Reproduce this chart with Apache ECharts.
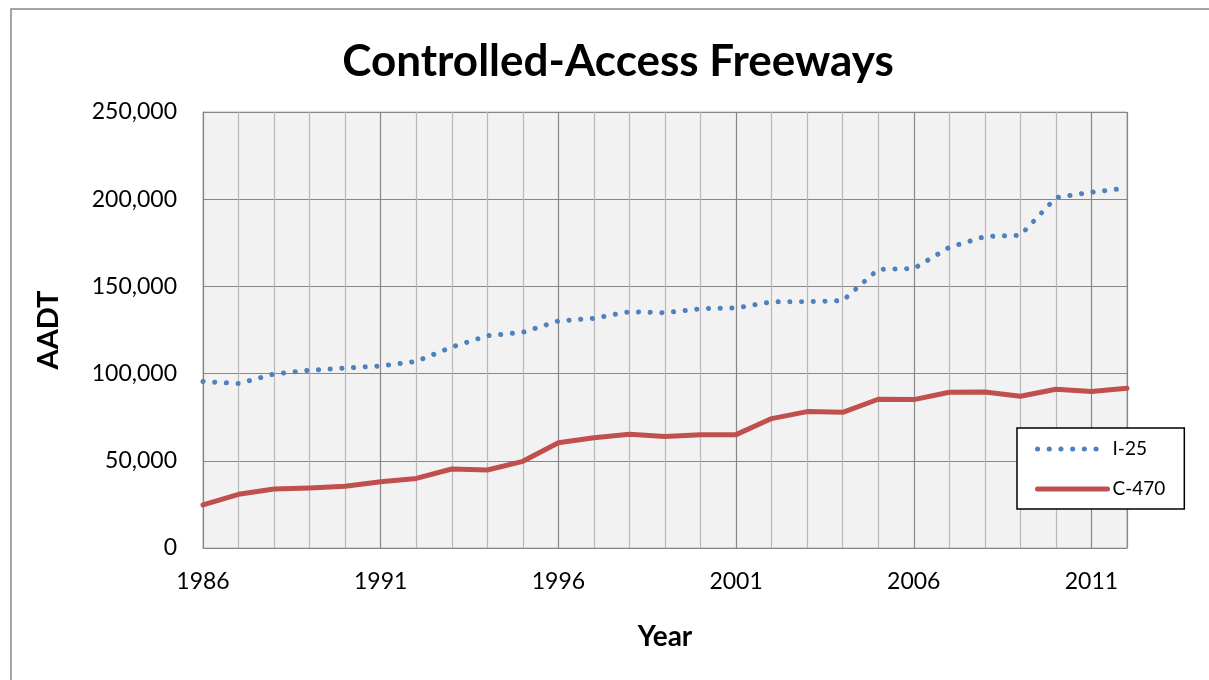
<!DOCTYPE html>
<html>
<head>
<meta charset="utf-8">
<title>Controlled-Access Freeways</title>
<script src="https://cdn.jsdelivr.net/npm/echarts@6/dist/echarts.min.js"></script>
<style>
  html, body { margin: 0; padding: 0; background: #fff; }
  #chart { width: 1209px; height: 680px; }
</style>
</head>
<body>
<div id="chart"></div>
<script>
// AADT by year
const years = [1986, 1987, 1988, 1989, 1990, 1991, 1992, 1993, 1994, 1995, 1996, 1997, 1998,
               1999, 2000, 2001, 2002, 2003, 2004, 2005, 2006, 2007, 2008, 2009, 2010, 2011, 2012];

const i25 = [95500, 94300, 99800, 101900, 103200, 104400, 107000, 115200, 121700, 123700, 130200, 131700, 135500,
             134900, 137200, 137600, 141100, 141300, 141800, 159800, 160200, 172400, 178600, 179300, 200900, 204000, 206400];

const c470 = [24700, 30800, 33800, 34400, 35400, 38000, 39900, 45300, 44700, 49700, 60400, 63200, 65200,
              64000, 65000, 65000, 74200, 78200, 77800, 85300, 85100, 89300, 89500, 87000, 91000, 89700, 91600];

const yTicks = [0, 50000, 100000, 150000, 200000, 250000];

const pairs = (vals) => years.map((y, i) => [y, vals[i]]);

const chart = echarts.init(document.getElementById('chart'));

const font = 'Lato, "Open Sans", sans-serif';

chart.setOption({
    animation: false,
    textStyle: { fontFamily: font },
    title: {
        text: 'Controlled-Access Freeways',
        left: 613,
        textAlign: 'center',
        top: 35,
        textStyle: { fontFamily: font, fontSize: 44, fontWeight: 'bold', color: '#000' }
    },
    graphic: [{
        type: 'rect',
        shape: { x: 11, y: 9, width: 1400, height: 900 },
        style: { fill: 'none', stroke: '#888', lineWidth: 1.5 },
        silent: true
    }],
    grid: {
        left: 203, right: 82, top: 112, bottom: 132,
        show: true,
        backgroundColor: '#f2f2f2',
        borderColor: '#b4b4b4',
        borderWidth: 1
    },
    legend: {
        orient: 'vertical',
        left: 1017,
        top: 428,
        padding: [10, 19, 9, 18],
        itemWidth: 70,
        itemHeight: 14,
        itemGap: 18,
        backgroundColor: '#fff',
        borderColor: '#000',
        borderWidth: 1.5,
        borderRadius: 0,
        itemStyle: { opacity: 0, borderWidth: 0 },
        lineStyle: { width: 5, cap: 'round' },
        textStyle: { fontFamily: font, fontSize: 19, color: '#000', lineHeight: 22 },
        data: ['I-25', 'C-470']
    },
    xAxis: {
        type: 'value',
        min: 1986,
        max: 2012,
        interval: 5,
        name: 'Year',
        nameLocation: 'middle',
        nameGap: 75,
        nameTextStyle: { fontFamily: font, fontSize: 28, fontWeight: 'bold', color: '#000' },
        axisLine: { show: true, lineStyle: { color: '#868686', width: 1 } },
        axisTick: { show: false },
        minorTick: { show: false, splitNumber: 5 },
        axisLabel: {
            fontFamily: font, fontSize: 23, color: '#000', margin: 22,
            showMaxLabel: false,
            formatter: (v) => String(v)
        },
        splitLine: { show: true, lineStyle: { color: '#878787', width: 1.2 } },
        minorSplitLine: { show: true, lineStyle: { color: '#b9b9b9', width: 1.2 } }
    },
    yAxis: {
        type: 'value',
        min: yTicks[0],
        max: yTicks[yTicks.length - 1],
        interval: 50000,
        name: 'AADT',
        nameLocation: 'middle',
        nameGap: 140,
        nameRotate: 90,
        nameTextStyle: { fontFamily: font, fontSize: 29, fontWeight: 'bold', color: '#000' },
        axisLine: { show: true, lineStyle: { color: '#868686', width: 1 } },
        axisTick: { show: false },
        axisLabel: {
            fontFamily: font, fontSize: 23, color: '#000', margin: 26,
            formatter: (v) => v.toLocaleString('en-US')
        },
        splitLine: { show: true, lineStyle: { color: '#878787', width: 1.2 } }
    },
    series: [
        {
            name: 'I-25',
            type: 'line',
            data: pairs(i25),
            showSymbol: false,
            symbol: 'none',
            color: '#4f81bd',
            lineStyle: { color: '#4f81bd', width: 5, type: [0.1, 11.6], cap: 'round' },
            z: 3
        },
        {
            name: 'C-470',
            type: 'line',
            data: pairs(c470),
            showSymbol: false,
            symbol: 'none',
            color: '#c0504d',
            lineStyle: { color: '#c0504d', width: 5, cap: 'round', join: 'round' },
            z: 2
        }
    ]
});
</script>
</body>
</html>
